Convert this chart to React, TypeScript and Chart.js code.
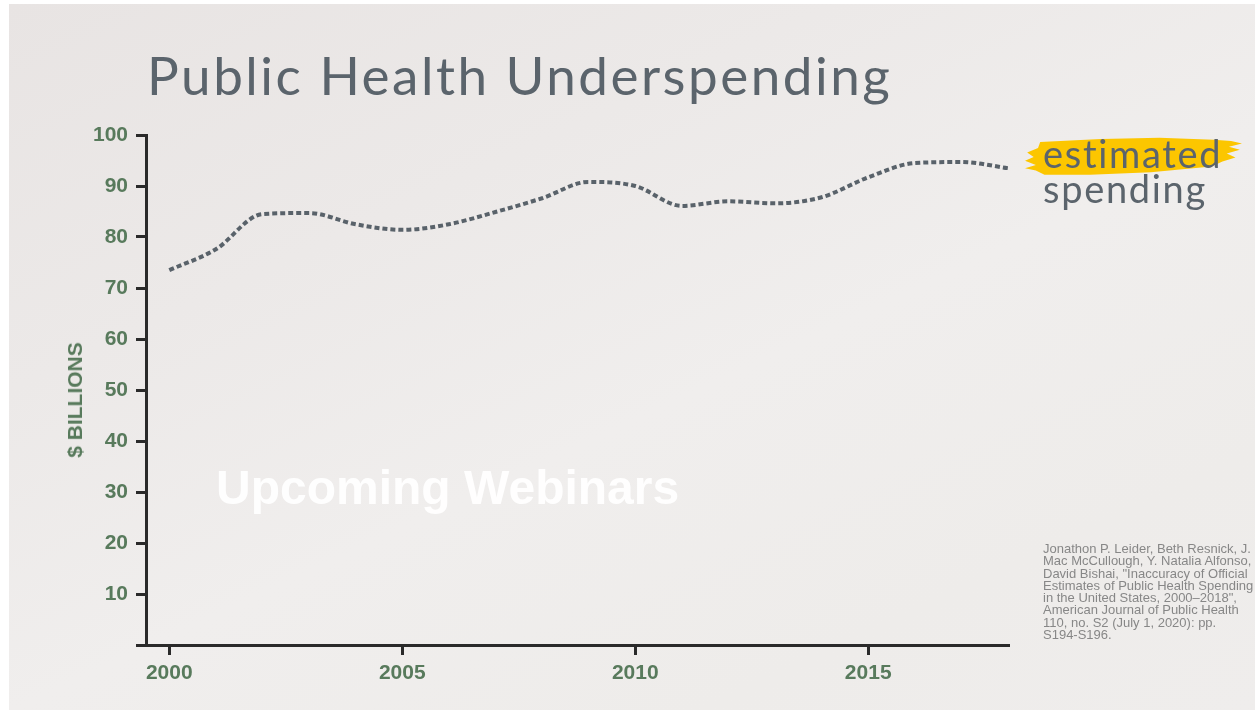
import React, { useEffect, useRef } from 'react';
import { Chart, registerables } from 'chart.js';

Chart.register(...registerables);

const YEARS = [2000, 2001, 2002, 2003, 2004, 2005, 2006, 2007, 2008, 2009, 2010, 2011, 2012, 2013, 2014, 2015, 2016, 2017, 2018];
const SPENDING = [73.5, 77.6, 84.5, 84.7, 82.5, 81.4, 82.5, 84.9, 87.6, 90.8, 90.0, 86.1, 87.0, 86.6, 87.8, 91.7, 94.5, 94.7, 93.5];
const X_TICKS = [2000, 2005, 2010, 2015];
const Y_TICKS = [0, 10, 20, 30, 40, 50, 60, 70, 80, 90, 100];
const TITLE = 'Public Health Underspending';
const Y_TITLE = '$ BILLIONS';
const SERIES_LABEL = ['estimated', 'spending'];
const OVERLAY = 'Upcoming Webinars';
const CITATION_LINES = [
  'Jonathon P. Leider, Beth Resnick, J.',
  'Mac McCullough, Y. Natalia Alfonso,',
  'David Bishai, "Inaccuracy of Official',
  'Estimates of Public Health Spending',
  'in the United States, 2000\u20132018",',
  'American Journal of Public Health',
  '110, no. S2 (July 1, 2020): pp.',
  'S194-S196.',
];

const GREEN = '#587a5c';
const SLATE = '#5b646c';
const AXIS = '#2a2a2a';
const TICK_FONT = { family: '"Liberation Sans", Arial, sans-serif', size: 21, weight: 'bold' as const };

export default function App() {
  const ref = useRef<HTMLCanvasElement>(null);

  useEffect(() => {
    if (!ref.current) return;
    const chart = new Chart(ref.current, {
      type: 'line',
      data: {
        datasets: [
          {
            data: YEARS.map((x, i) => ({ x, y: SPENDING[i] })),
            borderColor: '#59626a',
            borderWidth: 4,
            borderDash: [5, 3],
            borderCapStyle: 'butt',
            cubicInterpolationMode: 'monotone',
            pointRadius: 0,
            fill: false,
          },
        ],
      },
      options: {
        responsive: false,
        animation: false,
        devicePixelRatio: 1,
        layout: { padding: { top: 135, right: 251, left: 0, bottom: 0 } },
        plugins: { legend: { display: false }, tooltip: { enabled: false }, title: { display: false } },
        scales: {
          x: {
            type: 'linear',
            min: 1999.5,
            max: 2018,
            afterBuildTicks: (s: any) => {
              s.ticks = X_TICKS.map((v) => ({ value: v }));
            },
            afterFit: (s: any) => {
              s.height = 69;
            },
            grid: { drawOnChartArea: false, drawTicks: true, tickLength: 10, lineWidth: 3, color: AXIS },
            border: { display: true, width: 3, color: AXIS },
            ticks: {
              color: GREEN,
              font: TICK_FONT,
              padding: 6,
              maxRotation: 0,
              autoSkip: false,
              callback: (v: any) => String(v),
            },
          },
          y: {
            type: 'linear',
            min: 0,
            max: 100,
            afterBuildTicks: (s: any) => {
              s.ticks = Y_TICKS.map((v) => ({ value: v }));
            },
            afterFit: (s: any) => {
              s.width = 146;
            },
            grid: { drawOnChartArea: false, drawTicks: true, tickLength: 10, lineWidth: 3, color: AXIS },
            border: { display: true, width: 3, color: AXIS },
            ticks: {
              color: GREEN,
              font: TICK_FONT,
              padding: 8,
              autoSkip: false,
              callback: (v: any) => (v === 0 ? '' : String(v)),
            },
          },
        },
      },
    });
    return () => chart.destroy();
  }, []);

  const brush =
    'polygon(7% 12%, 35% 5%, 62% 2%, 87% 7%, 95% 10%, 100% 16%, 94% 24%, 99% 31%, 93% 40%, 97% 50%, 91% 60%, 86% 72%, 58% 86%, 30% 92%, 9% 92%, 5% 82%, 0% 76%, 5% 68%, 0% 58%, 4% 49%, 1% 38%, 6% 27%)';

  return (
    <div style={{ position: 'fixed', left: 0, top: 0, width: 1259, height: 714, background: '#ffffff', overflow: 'hidden' }}>
      <div
        style={{
          position: 'absolute',
          left: 9,
          top: 4,
          width: 1246,
          height: 706,
          background:
            'linear-gradient(155deg, #e8e4e3 0%, #ece9e8 30%, #f0eeed 55%, #eeecea 80%, #efedec 100%)',
        }}
      />
      <div
        style={{
          position: 'absolute',
          left: 1025,
          top: 137,
          width: 217,
          height: 41,
          background: '#fcc600',
          clipPath: brush,
        }}
      />
      <canvas ref={ref} width={1259} height={714} style={{ position: 'absolute', left: 0, top: 0, width: 1259, height: 714 }} />
      <div
        style={{
          position: 'absolute',
          left: 147,
          top: 45,
          font: '400 53px Lato, "Open Sans", sans-serif',
          lineHeight: '60px',
          color: SLATE,
          whiteSpace: 'nowrap',
          letterSpacing: '2.5px',
        }}
      >
        {TITLE}
      </div>
      <div
        style={{
          position: 'absolute',
          left: 1043,
          top: 136,
          font: '400 38px Lato, "Open Sans", sans-serif',
          lineHeight: '35px',
          color: SLATE,
          whiteSpace: 'pre',
          letterSpacing: '1.7px',
          fontVariantLigatures: 'none',
        }}
      >
        {SERIES_LABEL.join('\n')}
      </div>
      <div
        style={{
          position: 'absolute',
          left: 75,
          top: 400,
          transform: 'translate(-50%, -50%) rotate(-90deg)',
          font: 'bold 21px "Liberation Sans", Arial, sans-serif',
          color: GREEN,
          whiteSpace: 'nowrap',
        }}
      >
        {Y_TITLE}
      </div>
      <div
        style={{
          position: 'absolute',
          left: 216,
          top: 461,
          font: 'bold 48px "Liberation Sans", Arial, sans-serif',
          lineHeight: '54px',
          color: 'rgba(255,255,255,0.94)',
          whiteSpace: 'nowrap',
        }}
      >
        {OVERLAY}
      </div>
      <div
        style={{
          position: 'absolute',
          left: 1043,
          top: 543,
          font: '13px "Liberation Sans", Arial, sans-serif',
          lineHeight: '12.3px',
          color: '#878787',
          whiteSpace: 'pre',
        }}
      >
        {CITATION_LINES.join('\n')}
      </div>
    </div>
  );
}
